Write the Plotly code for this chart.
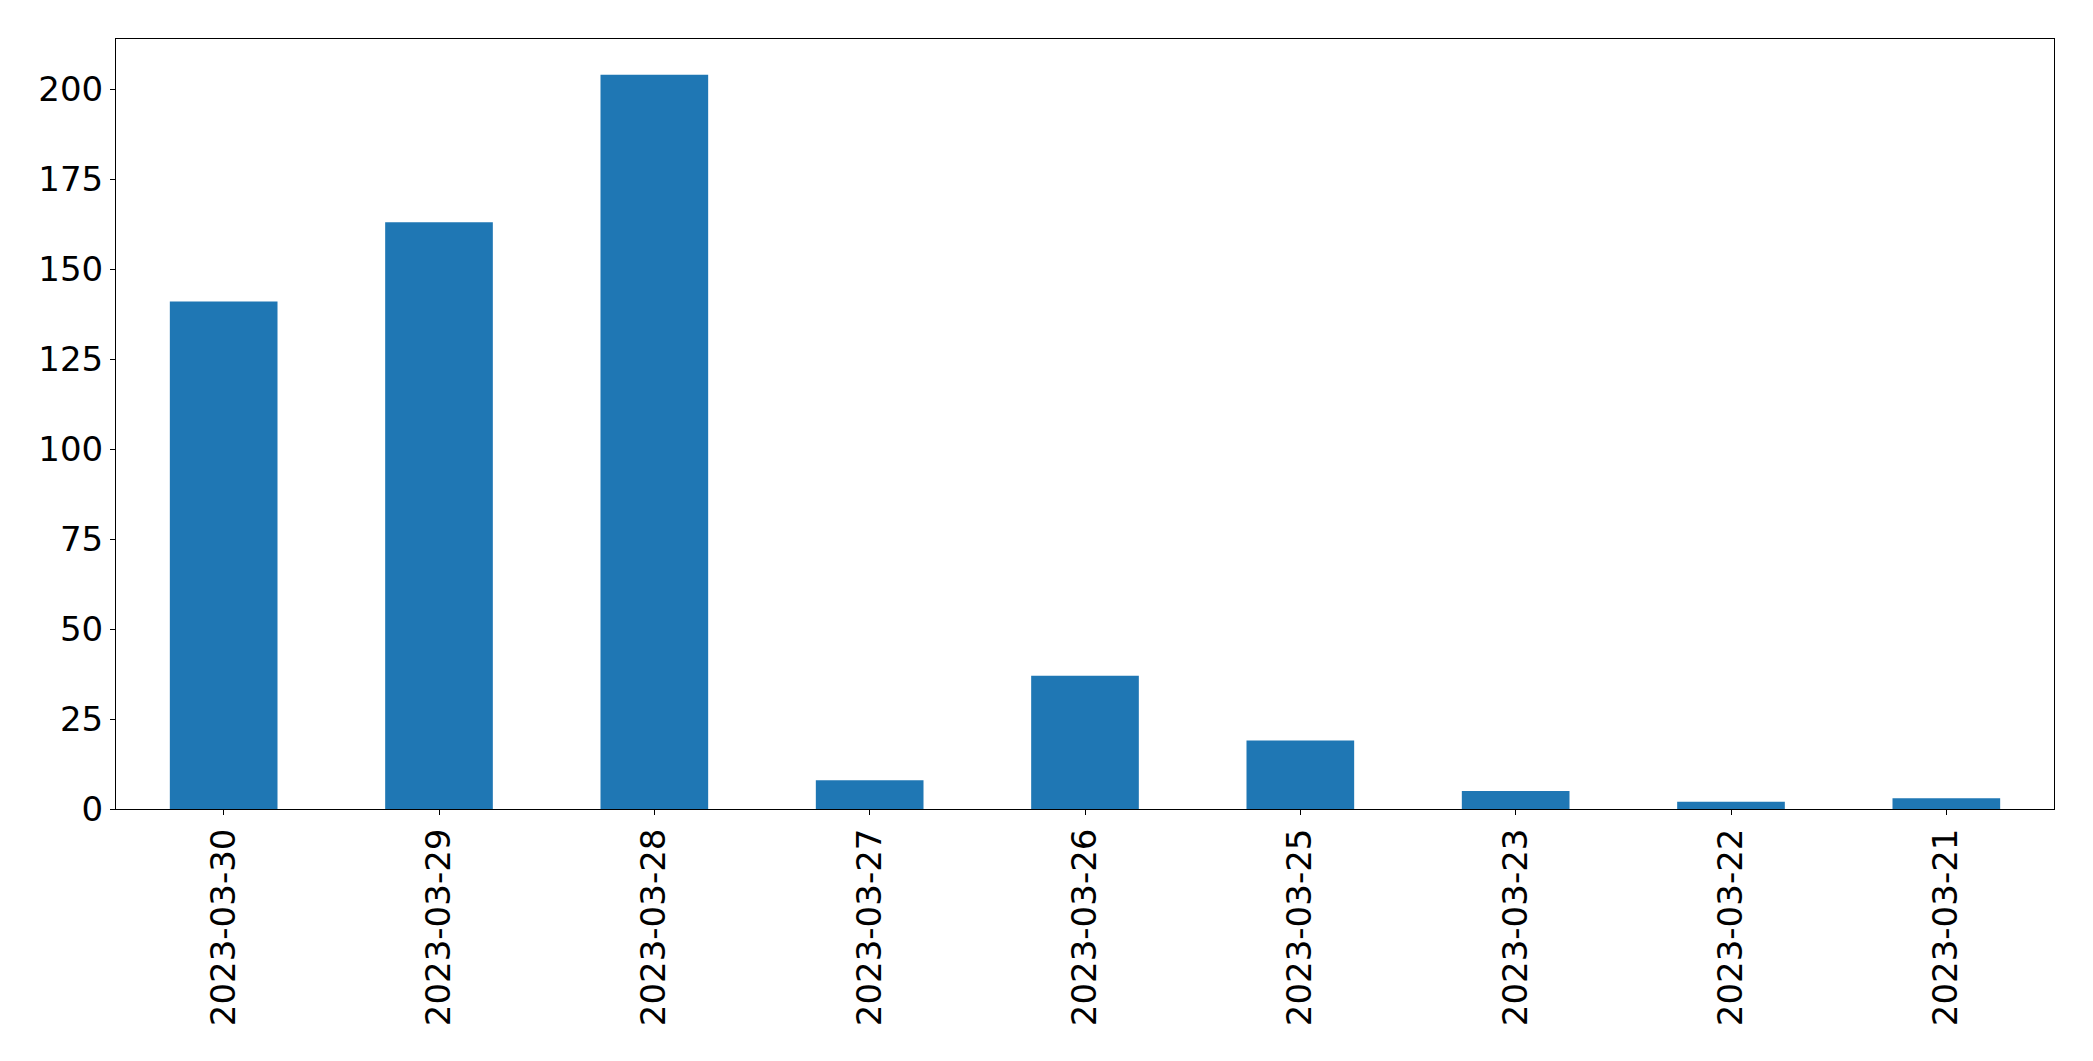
import plotly.graph_objects as go

dates = ["2023-03-30", "2023-03-29", "2023-03-28", "2023-03-27", "2023-03-26",
         "2023-03-25", "2023-03-23", "2023-03-22", "2023-03-21"]
counts = [141, 163, 204, 8, 37, 19, 5, 2, 3]
y_ticks = [0, 25, 50, 75, 100, 125, 150, 175, 200]

fig = go.Figure(go.Bar(x=dates, y=counts, width=0.5, marker=dict(color="#1f77b4", line=dict(width=0))))

axis_common = dict(showline=True, linecolor="black", linewidth=1, mirror=True,
                   ticks="outside", ticklen=5, tickwidth=1, tickcolor="black",
                   showgrid=False, zeroline=False,
                   tickfont=dict(family="DejaVu Sans", size=34, color="black"))

fig.update_layout(
    width=2093, height=1061,
    margin=dict(l=116, r=39, t=39, b=252),
    plot_bgcolor="white", paper_bgcolor="white",
    showlegend=False,
    xaxis=dict(type="category", range=[-0.5, 8.5], tickangle=-90, ticklabelstandoff=0, **axis_common),
    yaxis=dict(range=[0, 213.9], tickvals=y_ticks, ticktext=[str(v) for v in y_ticks], ticklabelstandoff=0, **axis_common),
)

fig.write_html("out.html")
